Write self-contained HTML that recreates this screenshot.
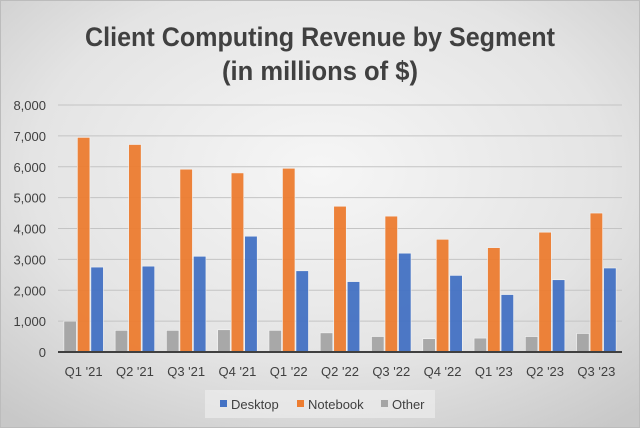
<!DOCTYPE html>
<html><head><meta charset="utf-8"><style>
html,body{margin:0;padding:0;}
body{width:640px;height:428px;overflow:hidden;font-family:"Liberation Sans",sans-serif;}
</style></head><body>
<svg id="chart" width="640" height="428" xmlns="http://www.w3.org/2000/svg">
<defs>
<radialGradient id="bg" cx="50%" cy="40%" r="75%">
<stop offset="0" stop-color="#f6f6f6"/><stop offset="0.6" stop-color="#e4e4e4"/><stop offset="1" stop-color="#c8c8c8"/>
</radialGradient>
</defs>
<rect x="0" y="0" width="640" height="428" fill="url(#bg)"/>
<rect x="0.5" y="0.5" width="639" height="427" fill="none" stroke="#bcbcbc"/>
<text x="320" y="46" text-anchor="middle" font-size="27" font-weight="bold" fill="#404040" textLength="470" lengthAdjust="spacingAndGlyphs">Client Computing Revenue by Segment</text>
<text x="320" y="80" text-anchor="middle" font-size="27" font-weight="bold" fill="#404040" textLength="196" lengthAdjust="spacingAndGlyphs">(in millions of $)</text>
<g id="grid"></g><g id="bars"></g><g id="labels"></g>
<rect x="205" y="390" width="230" height="28" fill="#ececec" opacity="0.7"/>
<rect x="220" y="400" width="7" height="7" fill="#4472c4"/>
<text x="231" y="409" font-size="13" fill="#404040">Desktop</text>
<rect x="297" y="400" width="7" height="7" fill="#ed7d31"/>
<text x="308" y="409" font-size="13" fill="#404040">Notebook</text>
<rect x="381" y="400" width="7" height="7" fill="#a5a5a5"/>
<text x="392" y="409" font-size="13" fill="#404040">Other</text>
</svg>
<script>
const categories=["Q1 '21","Q2 '21","Q3 '21","Q4 '21","Q1 '22","Q2 '22","Q3 '22","Q4 '22","Q1 '23","Q2 '23","Q3 '23"];
const otherVals=[1000,700,700,720,700,620,500,430,450,500,600];
const notebookVals=[6950,6720,5920,5800,5950,4720,4400,3650,3380,3880,4500];
const desktopVals=[2750,2780,3100,3750,2630,2280,3200,2480,1860,2340,2720];
const yTicks=[0,1000,2000,3000,4000,5000,6000,7000,8000];
const yTickLabels=["0","1,000","2,000","3,000","4,000","5,000","6,000","7,000","8,000"];
const NS="http://www.w3.org/2000/svg";
const x0=58,x1=622,yTop=105,yBot=352,yMax=8000;
const bw=(x1-x0)/categories.length;
function y(v){return yBot-(v/yMax)*(yBot-yTop);}
function xc(i){return x0+bw*(i+0.5);}
const grid=document.getElementById('grid'),bars=document.getElementById('bars'),labels=document.getElementById('labels');
function mk(tag,attrs,parent){const e=document.createElementNS(NS,tag);for(const k in attrs)e.setAttribute(k,attrs[k]);parent.appendChild(e);return e;}
yTicks.forEach((t,i)=>{
  if(t>0){const l=mk('line',{x1:x0,x2:x1,y1:y(t),y2:y(t),stroke:'#c4c4c4','stroke-width':1},grid);
  
  }
  const tx=mk('text',{x:46,y:y(t)+5,'text-anchor':'end','font-size':13,fill:'#404040'},labels);
  tx.textContent=yTickLabels[i];
  
  
});
const series=[[otherVals,'#a5a5a5','bar-other'],[notebookVals,'#ed7d31','bar-notebook'],[desktopVals,'#4472c4','bar-desktop']];
const barW=13.5;
categories.forEach((c,i)=>{
  series.forEach((s,j)=>{
    const v=s[0][i];
    const r=mk('rect',{x:xc(i)-barW*1.5+j*barW+0.5,y:y(v),width:barW-1,height:yBot-y(v),fill:s[1],stroke:'#f4f4f4','stroke-width':0.6,opacity:0.95},bars);
    
    
  });
  const tx=mk('text',{x:xc(i),y:376,'text-anchor':'middle','font-size':13,fill:'#404040'},labels);
  tx.textContent=c;
  
  
});
const ax=mk('line',{x1:x0,x2:x1,y1:yBot,y2:yBot,stroke:'#404040','stroke-width':2},labels);


</script>
</body></html>
